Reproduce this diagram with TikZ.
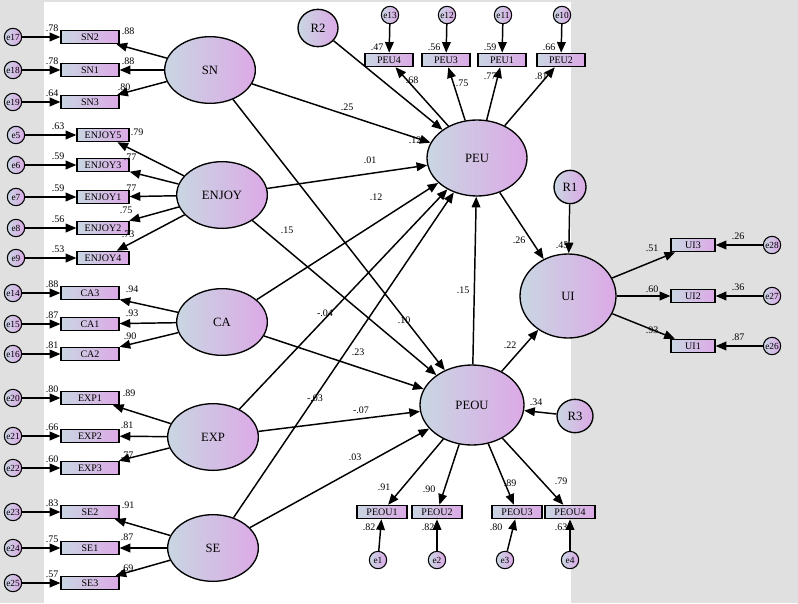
\documentclass[tikz,border=0pt]{standalone}
\usepackage{fontspec}
\setmainfont{Liberation Serif}
\usetikzlibrary{arrows.meta,shapes.geometric}
\begin{document}
\begin{tikzpicture}[x=0.75pt,y=-0.75pt,
 grad/.style={draw=black,line width=1pt,left color=gbl,right color=vio,shading angle=90},
 lat/.style={grad,ellipse,minimum width=68pt,minimum height=50pt,inner sep=0,font=\fontsize{9.5}{10}\selectfont},
 ind/.style={grad,rectangle,minimum width=58*0.75pt,minimum height=10pt,inner sep=0,font=\fontsize{7.5}{8}\selectfont,line width=0.9pt},
 err/.style={grad,circle,minimum size=13pt,inner sep=0,font=\fontsize{7}{8}\selectfont,line width=0.8pt},
 res/.style={grad,ellipse,inner sep=0,font=\fontsize{9.5}{10}\selectfont},
 ar/.style={-{Triangle[length=8pt,width=6.5pt]},line width=1.1pt},
 lb/.style={font=\fontsize{7.5}{8}\selectfont,inner sep=0}]
\definecolor{gbl}{HTML}{C9D6E2}\definecolor{vio}{HTML}{DCA9E6}
\fill[black!12] (0,0) rectangle (798,603);
\fill[white] (44,2) rectangle (571,603);
\path[use as bounding box] (0,0) rectangle (798,603);
% latent
\node[lat] (SN) at (210,70) {SN};
\node[lat] (ENJOY) at (222,195) {ENJOY};
\node[lat] (CA) at (222,322) {CA};
\node[lat] (EXP) at (213,437) {EXP};
\node[lat] (SE) at (213,548) {SE};
\node[lat,minimum width=75pt,minimum height=57pt] (PEU) at (477,158) {PEU};
\node[lat,minimum width=78pt,minimum height=60pt] (PEOU) at (472,405) {PEOU};
\node[lat,minimum width=72pt,minimum height=63pt] (UI) at (568,296) {UI};
\node[res,minimum width=30pt,minimum height=28pt] (R2) at (318,28) {R2};
\node[res,minimum width=24pt,minimum height=25pt] (R1) at (570,187) {R1};
\node[res,minimum width=27pt,minimum height=25pt] (R3) at (575,416) {R3};
% left indicators
\foreach \n/\y/\e/\v/\l/\lx/\ly in {SN2/37/e17/.78/.88/128/31, SN1/70/e18/.78/.88/128/61, SN3/102/e19/.64/.80/124/87}{
 \node[ind] (\n) at (90,\y) {\n};
 \node[err] (\e) at (13,\y) {\e};
 \draw[ar] (\e) -- (\n);
 \node[lb] at (52,\y-9) {\v};
 \draw[ar] (SN) -- (\n);
 \node[lb] at (\lx,\ly) {\l};}
\foreach \n/\y/\e/\v/\l/\lx/\ly in {ENJOY5/135/e5/.63/.79/137/132, ENJOY3/165/e6/.59/.77/130/157, ENJOY1/197/e7/.59/.77/130/188, ENJOY2/228/e8/.56/.75/126/210, ENJOY4/258/e9/.53/.73/128/234}{
 \node[ind,minimum width=52*0.75pt] (\n) at (103,\y) {\n};
 \node[err] (\e) at (16,\y) {\e};
 \draw[ar] (\e) -- (\n);
 \node[lb] at (58,\y-9) {\v};
 \draw[ar] (ENJOY) -- (\n);
 \node[lb] at (\lx,\ly) {\l};}
\foreach \n/\y/\e/\v/\l/\lx/\ly in {CA3/293/e14/.88/.94/132/289, CA1/324/e15/.87/.93/132/313, CA2/354/e16/.81/.90/130/336}{
 \node[ind] (\n) at (90,\y) {\n};
 \node[err] (\e) at (13,\y) {\e};
 \draw[ar] (\e) -- (\n);
 \node[lb] at (52,\y-9) {\v};
 \draw[ar] (CA) -- (\n);
 \node[lb] at (\lx,\ly) {\l};}
\foreach \n/\y/\e/\v/\l/\lx/\ly in {EXP1/398/e20/.80/.89/129/393, EXP2/436/e21/.66/.81/127/425, EXP3/468/e22/.60/.77/127/455}{
 \node[ind] (\n) at (90,\y) {\n};
 \node[err] (\e) at (13,\y) {\e};
 \draw[ar] (\e) -- (\n);
 \node[lb] at (52,\y-9) {\v};
 \draw[ar] (EXP) -- (\n);
 \node[lb] at (\lx,\ly) {\l};}
\foreach \n/\y/\e/\v/\l/\lx/\ly in {SE2/512/e23/.83/.91/128/505, SE1/548/e24/.75/.87/127/537, SE3/583/e25/.57/.69/127/568}{
 \node[ind] (\n) at (90,\y) {\n};
 \node[err] (\e) at (13,\y) {\e};
 \draw[ar] (\e) -- (\n);
 \node[lb] at (52,\y-9) {\v};
 \draw[ar] (SE) -- (\n);
 \node[lb] at (\lx,\ly) {\l};}
% PEU indicators
\foreach \n/\x/\e/\v/\l/\lx/\ly in {PEU4/389/e13/.47/.68/412/80, PEU3/446/e12/.56/.75/462/83, PEU1/502/e11/.59/.77/490/76, PEU2/561/e10/.66/.81/541/76}{
 \node[ind,minimum width=48*0.75pt] (\n) at (\x,60) {\n};
 \node[err] (\e) at (\x+1,15) {\e};
 \draw[ar] (\e) -- (\n);
 \node[lb] at (\x-12,47) {\v};
 \draw[ar] (PEU) -- (\n);
 \node[lb] at (\lx,\ly) {\l};}
% PEOU indicators
\foreach \n/\x/\e/\ex/\v/\l/\lx/\ly in {PEOU1/382/e1/378/.82/.91/384/487, PEOU2/437/e2/437/.82/.90/429/489, PEOU3/517/e3/505/.80/.89/510/483, PEOU4/570/e4/570/.63/.79/561/481}{
 \node[ind,minimum width=50*0.75pt] (\n) at (\x,512) {\n};
 \node[err] (\e) at (\ex,560) {\e};
 \draw[ar] (\e) -- (\n);
 \node[lb] at (\ex-9,527) {\v};
 \draw[ar] (PEOU) -- (\n);
 \node[lb] at (\lx,\ly) {\l};}
% UI indicators
\foreach \n/\y/\e/\v/\l/\ly in {UI3/245/e28/.26/.51/248, UI2/296/e27/.36/.60/289, UI1/346/e26/.87/.93/330}{
 \node[ind,minimum width=44*0.75pt] (\n) at (693,\y) {\n};
 \node[err] (\e) at (772,\y) {\e};
 \draw[ar] (\e) -- (\n);
 \node[lb] at (738,\y-9) {\v};
 \draw[ar] (UI) -- (\n);
 \node[lb] at (652,\ly) {\l};}
% structural
\draw[ar] (SN) -- (PEU); \node[lb] at (347,107) {.25};
\draw[ar] (SN) -- (PEOU); \node[lb] at (404,320) {.10};
\draw[ar] (ENJOY) -- (PEU); \node[lb] at (370,160) {.01};
\draw[ar] (ENJOY) -- (PEOU); \node[lb] at (287,230) {.15};
\draw[ar] (CA) -- (PEU); \node[lb] at (376,197) {.12};
\draw[ar] (CA) -- (PEOU); \node[lb] at (358,352) {.23};
\draw[ar] (EXP) -- (PEU); \node[lb] at (325,313) {-.04};
\draw[ar] (EXP) -- (PEOU); \node[lb] at (361,410) {-.07};
\draw[ar] (SE) -- (PEU); \node[lb] at (315,398) {-.03};
\draw[ar] (SE) -- (PEOU); \node[lb] at (355,457) {.03};
\draw[ar] (R2) -- (PEU); \node[lb] at (415,140) {.12};
\draw[ar] (PEU) -- (UI); \node[lb] at (519,240) {.26};
\draw[ar] (PEOU) -- (PEU); \node[lb] at (463,290) {.15};
\draw[ar] (PEOU) -- (UI); \node[lb] at (510,345) {.22};
\draw[ar] (R1) -- (UI); \node[lb] at (562,245) {.45};
\draw[ar] (R3) -- (PEOU); \node[lb] at (536,402) {.34};
\end{tikzpicture}
\end{document}
